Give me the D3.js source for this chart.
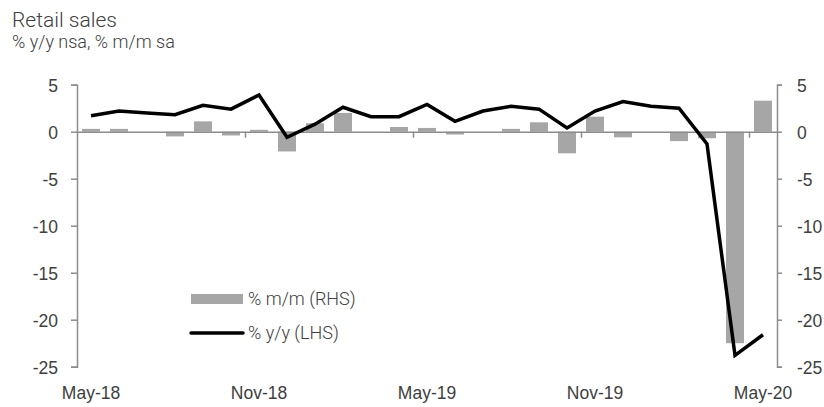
<!DOCTYPE html>
<html>
<head>
<meta charset="utf-8">
<script src="https://cdn.jsdelivr.net/npm/d3@7"></script>
<style>
  body { margin: 0; background: #fff; }
  svg { display: block; font-family: Roboto, "Liberation Sans", sans-serif; font-weight: 300; }
  .axis text { fill: #404040; font-size: 17.5px; }
  .axis path, .axis line { stroke: #8c8c8c; stroke-width: 1.5; }
</style>
</head>
<body>
<svg class="chart" width="824" height="407"></svg>
<script>
// Static data
const months = ['May-18', 'Jun-18', 'Jul-18', 'Aug-18', 'Sep-18', 'Oct-18', 'Nov-18', 'Dec-18',
  'Jan-19', 'Feb-19', 'Mar-19', 'Apr-19', 'May-19', 'Jun-19', 'Jul-19', 'Aug-19', 'Sep-19',
  'Oct-19', 'Nov-19', 'Dec-19', 'Jan-20', 'Feb-20', 'Mar-20', 'Apr-20', 'May-20'];
const yoy = [1.7, 2.2, 2.0, 1.8, 2.8, 2.4, 3.9, -0.6, 0.8, 2.6, 1.6, 1.6, 2.9, 1.1, 2.2, 2.7, 2.4,
  0.4, 2.2, 3.2, 2.7, 2.5, -1.3, -23.8, -21.6];
const mom = [0.3, 0.3, 0.0, -0.5, 1.1, -0.4, 0.2, -2.1, 0.9, 2.0, 0.0, 0.5, 0.4, -0.3, 0.0, 0.3, 1.0,
  -2.3, 1.6, -0.6, 0.0, -1.0, -0.7, -22.5, 3.3];
const yTicks = [5, 0, -5, -10, -15, -20, -25];
const labelMonths = ['May-18', 'Nov-18', 'May-19', 'Nov-19', 'May-20'];

const margin = { top: 84.7, right: 47, bottom: 40.3, left: 77 };
const width = 824 - margin.left - margin.right;
const height = 407 - margin.top - margin.bottom;

const svg = d3.select('.chart');
const g = svg.append('g').attr('transform', `translate(${margin.left}, ${margin.top})`);

// scales
const x = d3.scaleBand().domain(months).range([0, width]).paddingInner(10 / 28).paddingOuter(5 / 28);
const xEdge = d3.scaleLinear().domain([0, months.length]).range([0, width]);
const yL = d3.scaleLinear().domain([-25, 5]).range([height, 0]);
const yR = d3.scaleLinear().domain([-25, 5]).range([height, 0]);
const fmt = d => String(d); // plain hyphen, as in the original

// titles
svg.append('text').attr('x', 12).attr('y', 26.5)
   .attr('fill', '#404040').style('font-size', '21px').text('Retail sales');
svg.append('text').attr('x', 12).attr('y', 47.5)
   .attr('fill', '#404040').style('font-size', '18px').text('% y/y nsa, % m/m sa');

// y axes
g.append('g').attr('class', 'axis')
 .call(d3.axisLeft(yL).tickValues(yTicks).tickFormat(fmt).tickSize(6).tickPadding(13).tickSizeOuter(6))
 .selectAll('text').attr('dy', '0.36em');

g.append('g').attr('class', 'axis')
 .attr('transform', `translate(${width}, 0)`)
 .call(d3.axisRight(yR).tickValues(yTicks).tickFormat(fmt).tickSize(5).tickPadding(15).tickSizeOuter(5))
 .selectAll('text').attr('dy', '0.36em');

// bars
g.selectAll('.bar')
 .data(mom)
 .enter().append('rect')
 .attr('class', 'bar')
 .attr('x', (d, i) => x(months[i]))
 .attr('y', d => yR(Math.max(0, d)))
 .attr('width', x.bandwidth())
 .attr('height', d => Math.abs(yR(d) - yR(0)))
 .attr('fill', '#a6a6a6');

// category axis on the zero line
g.append('g').attr('class', 'axis')
 .attr('transform', `translate(0, ${yL(0)})`)
 .call(d3.axisBottom(xEdge).tickValues([6, 12, 18, 24]).tickSize(6).tickSizeOuter(0).tickFormat(''));

// month labels at the bottom
const xLabels = g.append('g').attr('class', 'axis')
 .attr('transform', `translate(0, ${height})`)
 .call(d3.axisBottom(x).tickValues(labelMonths).tickSize(0).tickPadding(20));
xLabels.select('.domain').remove();

// y/y line
const line = d3.line()
  .x((d, i) => x(months[i]) + x.bandwidth() / 2)
  .y(d => yL(d));

g.append('path')
 .datum(yoy)
 .attr('d', line)
 .attr('fill', 'none')
 .attr('stroke', '#000')
 .attr('stroke-width', 3.5)
 .attr('stroke-linejoin', 'miter');

// legend
const legend = svg.append('g').attr('transform', 'translate(191, 0)');
legend.append('rect').attr('x', 0).attr('y', 294).attr('width', 52).attr('height', 10).attr('fill', '#a6a6a6');
legend.append('text').attr('x', 57).attr('y', 299).attr('dy', '0.36em')
      .attr('fill', '#404040').style('font-size', '18px').text('% m/m (RHS)');
legend.append('line').attr('x1', 0).attr('x2', 52).attr('y1', 333).attr('y2', 333)
      .attr('stroke', '#000').attr('stroke-width', 3.5).attr('stroke-linecap', 'round');
legend.append('text').attr('x', 57).attr('y', 333).attr('dy', '0.36em')
      .attr('fill', '#404040').style('font-size', '18px').text('% y/y (LHS)');
</script>
</body>
</html>
